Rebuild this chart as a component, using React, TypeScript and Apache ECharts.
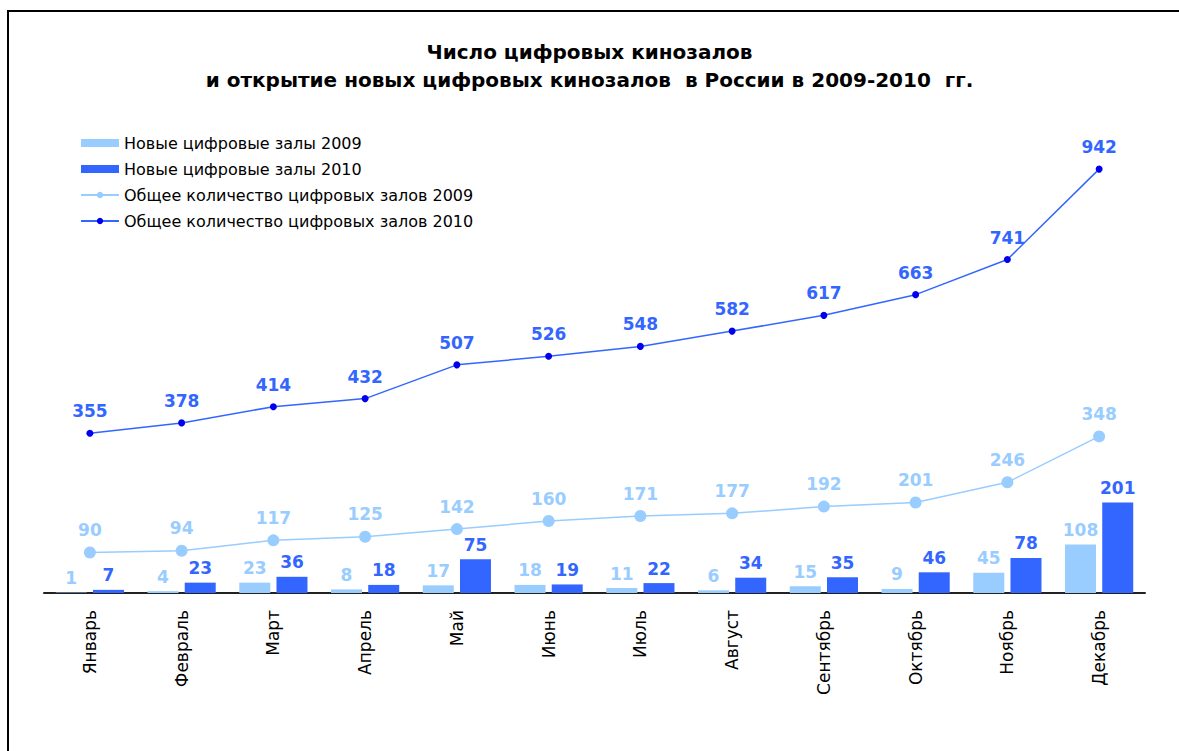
import React, { useEffect, useRef } from "react";
import * as echarts from "echarts";

const months = ["Январь", "Февраль", "Март", "Апрель", "Май", "Июнь", "Июль", "Август", "Сентябрь", "Октябрь", "Ноябрь", "Декабрь"];
const new2009 = [1, 4, 23, 8, 17, 18, 11, 6, 15, 9, 45, 108];
const new2010 = [7, 23, 36, 18, 75, 19, 22, 34, 35, 46, 78, 201];
const total2009 = [90, 94, 117, 125, 142, 160, 171, 177, 192, 201, 246, 348];
const total2010 = [355, 378, 414, 432, 507, 526, 548, 582, 617, 663, 741, 942];

const LIGHT = "#99CCFF";
const BLUE = "#3366FF";
const DARK = "#0000EE";
const FONT = "DejaVu Sans";

export default function App() {
  const ref = useRef<HTMLDivElement>(null);
  useEffect(() => {
    if (!ref.current) return;
    const chart = echarts.init(ref.current, undefined, { renderer: "svg" });
    const label = (color: string, distance: number) => ({
      show: true,
      position: "top",
      distance,
      color,
      fontWeight: "bold",
      fontSize: 17,
      fontFamily: FONT,
    });
    chart.setOption({
      animation: false,
      backgroundColor: "#fff",
      textStyle: { fontFamily: FONT },
      title: {
        text: "Число цифровых кинозалов\nи открытие новых цифровых кинозалов  в России в 2009-2010  гг.",
        left: "center",
        top: 33,
        textStyle: { fontFamily: FONT, fontWeight: "bold", fontSize: 20, lineHeight: 28, color: "#000" },
      },
      legend: {
        orient: "vertical",
        left: 75,
        top: 130,
        itemWidth: 38,
        itemHeight: 8,
        itemGap: 10,
        textStyle: { fontFamily: FONT, fontSize: 16, color: "#000" },
        data: [
          { name: "Новые цифровые залы 2009", icon: "rect" },
          { name: "Новые цифровые залы 2010", icon: "rect" },
          "Общее количество цифровых залов 2009",
          "Общее количество цифровых залов 2010",
        ],
      },
      graphic: [
        {
          type: "rect",
          shape: { x: 8, y: 11, width: 1300, height: 900 },
          style: { fill: "none", stroke: "#000", lineWidth: 2 },
          silent: true,
        },
      ],
      grid: { left: 44, right: 34, top: 143, bottom: 158 },
      xAxis: {
        type: "category",
        data: months,
        axisLine: { lineStyle: { color: "#222", width: 2 } },
        axisTick: { length: 6, lineStyle: { color: "#222", width: 2 } },
        axisLabel: { rotate: 90, margin: 17, fontFamily: FONT, fontSize: 17, color: "#000" },
      },
      yAxis: { type: "value", min: 0, max: 1000, show: false, splitLine: { show: false } },
      series: [
        {
          name: "Новые цифровые залы 2009",
          type: "bar",
          data: new2009,
          barWidth: 31,
          barGap: "20%",
          itemStyle: { color: LIGHT },
          label: label(LIGHT, 6),
        },
        {
          name: "Новые цифровые залы 2010",
          type: "bar",
          data: new2010,
          barWidth: 31,
          barGap: "20%",
          itemStyle: { color: BLUE },
          label: label(BLUE, 6),
        },
        {
          name: "Общее количество цифровых залов 2009",
          type: "line",
          data: total2009,
          symbol: "circle",
          symbolSize: 12,
          lineStyle: { color: LIGHT, width: 1.5 },
          itemStyle: { color: LIGHT },
          label: label(LIGHT, 8),
        },
        {
          name: "Общее количество цифровых залов 2010",
          type: "line",
          data: total2010,
          symbol: "circle",
          symbolSize: 7,
          lineStyle: { color: BLUE, width: 1.5 },
          itemStyle: { color: DARK },
          label: label(BLUE, 10),
        },
      ],
    });
    return () => chart.dispose();
  }, []);
  return <div ref={ref} style={{ position: "absolute", left: 0, top: 0, width: 1179, height: 751 }} />;
}
